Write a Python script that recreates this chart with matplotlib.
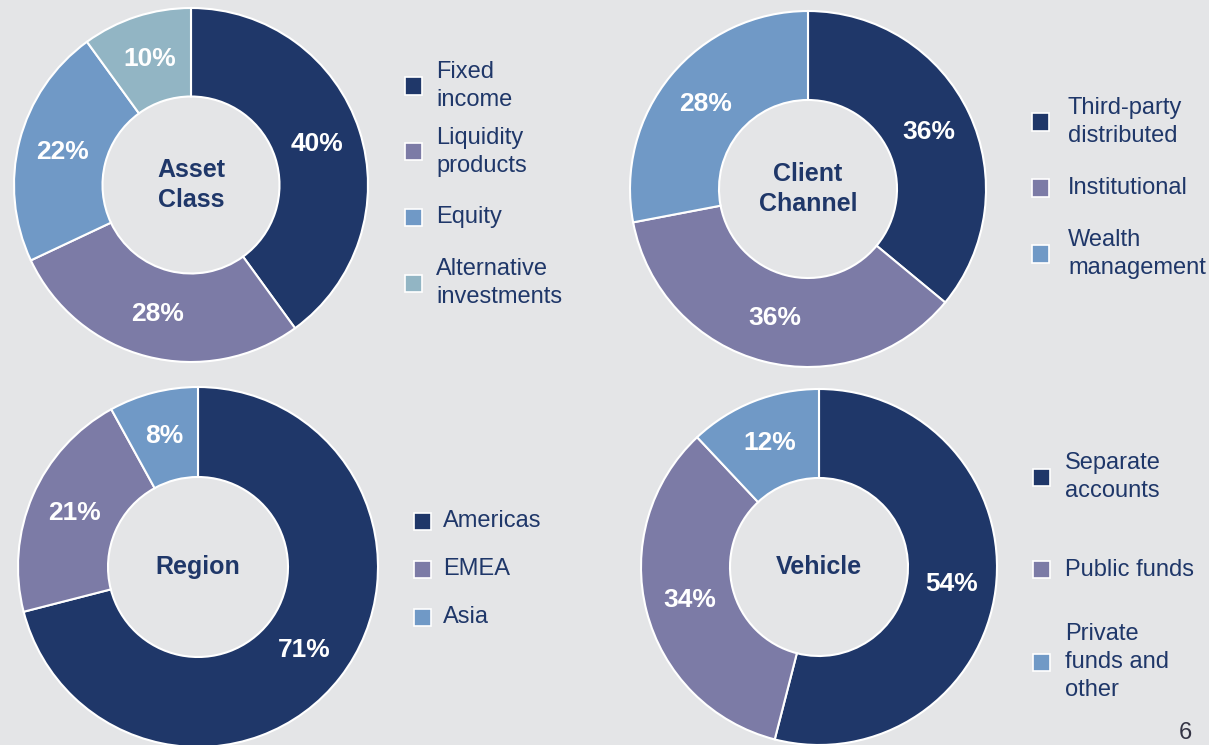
import matplotlib.pyplot as plt
from matplotlib.patches import Rectangle

# Data
asset_labels = ["Fixed\nincome", "Liquidity\nproducts", "Equity", "Alternative\ninvestments"]
asset_values = [40, 28, 22, 10]

channel_labels = ["Third-party\ndistributed", "Institutional", "Wealth\nmanagement"]
channel_values = [36, 36, 28]

region_labels = ["Americas", "EMEA", "Asia"]
region_values = [71, 21, 8]

vehicle_labels = ["Separate\naccounts", "Public funds", "Private\nfunds and\nother"]
vehicle_values = [54, 34, 12]

NAVY = "#1f3769"
PURPLE = "#7c7ba6"
BLUE = "#7099c6"
TEAL = "#92b5c4"
BG = "#e4e5e7"

plt.rcParams['font.family'] = ['Liberation Sans', 'DejaVu Sans']

W, H = 1209, 745
fig = plt.figure(figsize=(W / 100, H / 100), dpi=100, facecolor=BG)


def fx(x):
    return x / W


def fy(y):
    return 1 - y / H


def donut(cx, cy, r, values, colors, title):
    ax = fig.add_axes([fx(cx - r), fy(cy + r), 2 * r / W, 2 * r / H])
    ax.pie(values, colors=colors, startangle=90, counterclock=False, radius=1,
           wedgeprops=dict(width=0.5, edgecolor="white", linewidth=1.5),
           autopct="%d%%", pctdistance=0.75,
           textprops=dict(color="white", fontsize=19, fontweight="bold"))
    ax.set_xlim(-1, 1)
    ax.set_ylim(-1, 1)
    ax.set_facecolor(BG)
    ax.axis("off")
    ax.text(0, 0, title, ha="center", va="center", color=NAVY,
            fontsize=18, fontweight="bold", linespacing=1.3)
    return ax


def legend(labels, colors, mx, tx, y0, step, size=17):
    for i, (lab, col) in enumerate(zip(labels, colors)):
        y = y0 + i * step
        fig.add_artist(Rectangle((fx(mx - size / 2), fy(y + size / 2)), size / W, size / H,
                                 transform=fig.transFigure, facecolor=col,
                                 edgecolor="white", linewidth=1.2))
        fig.text(fx(tx), fy(y), lab, ha="left", va="center", color=NAVY,
                 fontsize=17, linespacing=1.35)


donut(191, 185, 177, asset_values, [NAVY, PURPLE, BLUE, TEAL], "Asset\nClass")
legend(asset_labels, [NAVY, PURPLE, BLUE, TEAL], 413, 436, 86, 65.7)

donut(808, 189, 178, channel_values, [NAVY, PURPLE, BLUE], "Client\nChannel")
legend(channel_labels, [NAVY, PURPLE, BLUE], 1040, 1068, 122, 66)

donut(198, 567, 180, region_values, [NAVY, PURPLE, BLUE], "Region")
legend(region_labels, [NAVY, PURPLE, BLUE], 422, 443, 521, 48)

donut(819, 567, 178, vehicle_values, [NAVY, PURPLE, BLUE], "Vehicle")
legend(vehicle_labels, [NAVY, PURPLE, BLUE], 1041, 1065, 477, 92.5)

fig.text(fx(1185), fy(733), "6", ha="center", va="center", color="#333344", fontsize=17)

fig.savefig("out.png", dpi=100, facecolor=BG)
